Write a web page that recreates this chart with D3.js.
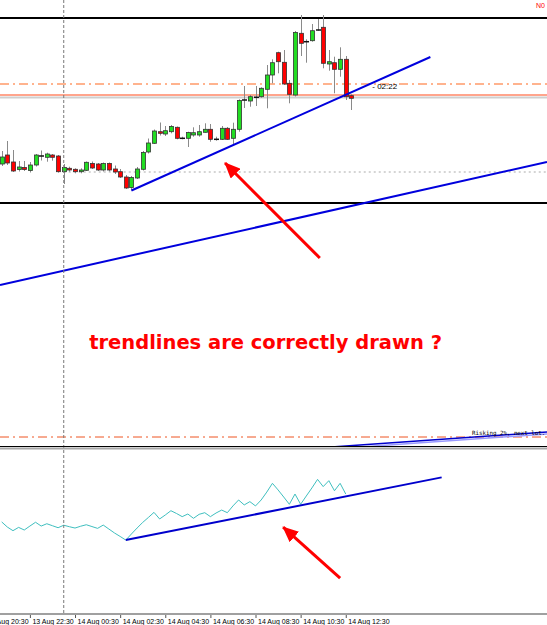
<!DOCTYPE html>
<html lang="en">
<head>
<meta charset="UTF-8">
<title>trendlines</title>
<script src="https://d3js.org/d3.v7.min.js"></script>
<style>
  body{margin:0;background:#fff;}
  svg{display:block;}
</style>
</head>
<body>
<script>
// M15 bars, first one 13 Aug 21:15
const firstBar = new Date(2013, 7, 13, 21, 15);
const barMs = 15 * 60000;

const opens  = [154.360,154.450,154.380,154.305,154.325,154.295,154.350,154.440,154.427,154.450,
                154.440,154.283,154.317,154.307,154.283,154.297,154.365,154.360,154.300,154.365,
                154.310,154.283,154.230,154.125,154.220,154.307,154.480,154.567,154.683,154.660,
                154.683,154.727,154.617,154.617,154.650,154.650,154.677,154.707,154.607,154.607,
                154.717,154.617,154.707,155.000,154.990,155.027,155.033,155.107,155.250,155.473,
                155.377,155.167,155.050,155.667,155.583,155.593,155.700,155.727,155.360,155.373,
                155.307,155.407,155.043];
const highs  = [154.490,154.590,154.500,154.390,154.390,154.380,154.460,154.495,154.473,154.460,
                154.450,154.360,154.333,154.317,154.317,154.385,154.385,154.370,154.375,154.375,
                154.345,154.310,154.250,154.240,154.330,154.490,154.615,154.705,154.775,154.740,
                154.750,154.735,154.633,154.683,154.727,154.750,154.767,154.760,154.633,154.740,
                154.730,154.773,155.007,155.140,155.050,155.140,155.127,155.350,155.407,155.483,
                155.500,155.200,155.690,155.850,155.607,155.760,155.810,155.850,155.500,155.433,
                155.527,155.440,155.057];
const lows   = [154.340,154.350,154.280,154.285,154.290,154.275,154.335,154.395,154.383,154.393,
                154.273,154.160,154.283,154.267,154.267,154.290,154.310,154.290,154.285,154.285,
                154.260,154.220,154.110,154.095,154.210,154.295,154.465,154.560,154.645,154.640,
                154.667,154.607,154.607,154.530,154.633,154.633,154.673,154.583,154.593,154.600,
                154.600,154.550,154.683,154.920,154.933,154.940,155.023,154.917,155.167,155.267,
                155.150,154.967,155.035,155.440,155.373,155.583,155.693,155.317,155.293,155.067,
                155.233,155.000,154.900];
const closes = [154.430,154.370,154.290,154.330,154.305,154.350,154.450,154.440,154.460,154.427,
                154.283,154.325,154.300,154.283,154.300,154.377,154.320,154.300,154.365,154.300,
                154.280,154.230,154.120,154.225,154.310,154.475,154.570,154.690,154.667,154.693,
                154.735,154.617,154.617,154.675,154.673,154.683,154.707,154.607,154.607,154.717,
                154.607,154.707,154.995,155.000,155.033,155.027,155.117,155.250,155.373,155.383,
                155.160,155.057,155.675,155.567,155.583,155.693,155.700,155.367,155.383,155.307,
                155.407,155.033,155.017];

// lower window line, one value per bar
const osc = [55.8,52.7,50.5,52.5,50.9,53.3,55.6,53.3,54.7,53.5,
             52.3,53.8,52.9,52.1,53.2,54.1,53.0,51.9,53.9,51.5,
             49.1,47.0,44.8,48.5,52.1,55.5,58.5,61.6,57.6,60.0,
             62.6,60.9,59.0,60.6,58.0,60.4,61.4,59.0,61.2,63.0,
             61.4,65.5,69.1,66.1,68.1,65.5,69.1,73.9,79.2,75.2,
             70.9,66.5,72.7,66.5,71.5,76.4,81.6,77.2,80.8,74.7,
             79.2,72.7];

const tickBars   = [-3, 5, 13, 21, 29, 37, 45, 53, 61];
const tickLabels = ["13 Aug 20:30","13 Aug 22:30","14 Aug 00:30","14 Aug 02:30","14 Aug 04:30",
                    "14 Aug 06:30","14 Aug 08:30","14 Aug 10:30","14 Aug 12:30"];

// horizontal levels (price)
const levelHigh = 155.820, levelLow = 153.970;
const levelDash = 155.160, levelBid = 155.050, levelAsk = 155.025, levelOpen = 154.280;
const levelSep = 151.630;

// trendlines: [bar, price]
const trendUp    = [[23, 154.095], [76, 155.430]];
const trendLong  = [[0, 153.154], [60, 153.915]];
const trendRisk  = [[61, 151.540], [96, 151.677]];
const trendOsc   = [[22, 44.8], [78, 82.8]];
const arrowMain  = [[56.4, 153.42], [39.6, 154.37]];
const arrowOsc   = [[60.0, 21.8], [49.9, 52.7]];

const W = 547, H = 625;
const mainBottom = 446, indTop = 449, indBottom = 614;

const svg = d3.select("body").append("svg").attr("width", W).attr("height", H)
  .style("font-family", "'Liberation Sans', Arial, sans-serif");

const barTime = i => new Date(+firstBar + i * barMs);
const times = opens.map((d, i) => barTime(i));
const x = d3.scaleTime().domain([times[0], times[times.length - 1]]).range([1.7, 351.4]);
const xb = i => x(barTime(i));
const y = d3.scaleLinear().domain([156, 151.54]).range([0, mainBottom]);
const yo = d3.scaleLinear().domain([0, 100]).range([indBottom, indTop]);

const defs = svg.append("defs");
defs.append("clipPath").attr("id", "clipMain").append("rect")
  .attr("x", 0).attr("y", 0).attr("width", W).attr("height", mainBottom);
defs.append("clipPath").attr("id", "clipInd").append("rect")
  .attr("x", 0).attr("y", indTop).attr("width", W).attr("height", indBottom - indTop);
defs.append("marker").attr("id", "head").attr("markerUnits", "userSpaceOnUse")
  .attr("viewBox", "0 0 16 14").attr("refX", 15).attr("refY", 7)
  .attr("markerWidth", 16).attr("markerHeight", 14).attr("orient", "auto")
  .append("path").attr("d", "M0,0 L16,7 L0,14 Z").attr("fill", "#ff0000");

const main = svg.append("g").attr("clip-path", "url(#clipMain)");
const ind = svg.append("g").attr("clip-path", "url(#clipInd)");

// day separator
const daySep = xb(11);
svg.append("line").attr("x1", daySep).attr("x2", daySep).attr("y1", 0).attr("y2", indBottom)
  .attr("stroke", "#777").attr("stroke-dasharray", "3,2").attr("stroke-width", 1);

function hline(g, yy, color, width, dash, x0) {
  g.append("line").attr("x1", x0 || 0).attr("x2", W).attr("y1", yy).attr("y2", yy)
    .attr("stroke", color).attr("stroke-width", width)
    .attr("stroke-dasharray", dash || null);
}
hline(main, y(levelOpen), "#aaa", 1, "2,3", daySep);
hline(main, y(levelDash), "#ff9a6a", 1.5, "9,4,2,4");
hline(main, y(levelAsk), "#cfcfcf", 2);
hline(main, y(levelBid), "#ff4a1a", 1);
hline(main, y(levelHigh), "#000", 2);
hline(main, y(levelLow), "#000", 2);
hline(main, y(levelSep), "#ee5522", 1, "9,4,2,4");

// candles
const bars = times.map((t, i) => ({ t, o: opens[i], h: highs[i], l: lows[i], c: closes[i] }));
main.selectAll(".wick").data(bars).join("line").attr("class", "wick")
  .attr("x1", d => Math.round(x(d.t)) + 0.5).attr("x2", d => Math.round(x(d.t)) + 0.5)
  .attr("y1", d => y(d.h)).attr("y2", d => y(d.l))
  .attr("stroke", "#8a8a8a").attr("stroke-width", 1);
main.selectAll(".body").data(bars.filter(d => d.o !== d.c)).join("rect").attr("class", "body")
  .attr("x", d => Math.round(x(d.t)) - 1.5).attr("width", 4)
  .attr("y", d => y(Math.max(d.o, d.c)))
  .attr("height", d => Math.max(1.5, Math.abs(y(d.o) - y(d.c))))
  .attr("fill", d => d.c > d.o ? "#22dd22" : "#ff0000")
  .attr("stroke", "#333").attr("stroke-width", 0.8);
main.selectAll(".doji").data(bars.filter(d => d.o === d.c)).join("line").attr("class", "doji")
  .attr("x1", d => Math.round(x(d.t)) - 2).attr("x2", d => Math.round(x(d.t)) + 3)
  .attr("y1", d => y(d.o)).attr("y2", d => y(d.o))
  .attr("stroke", "#111").attr("stroke-width", 1.5);

// trendlines
function seg(g, pts, ys, extend, color, width) {
  let p = pts.map(d => [xb(d[0]), ys(d[1])]);
  if (extend) {
    const k = (p[1][1] - p[0][1]) / (p[1][0] - p[0][0]);
    p = [[0, p[0][1] - k * p[0][0]], [W, p[0][1] + k * (W - p[0][0])]];
  }
  g.append("line").attr("x1", p[0][0]).attr("y1", p[0][1]).attr("x2", p[1][0]).attr("y2", p[1][1])
    .attr("stroke", color).attr("stroke-width", width);
}
seg(main, trendRisk.map(d => [d[0], d[1] - 0.02]), y, true, "#9999ff", 1.5);
seg(main, trendRisk, y, true, "#0000cc", 1.5);
seg(main, trendUp, y, false, "#0000dd", 2);
seg(main, trendLong, y, true, "#0000dd", 2);

// countdown text
main.append("text").attr("x", xb(65.7)).attr("y", y(155.115))
  .attr("font-size", 8).attr("fill", "#000").text("- 02:22");
svg.append("text").attr("x", 472).attr("y", y(151.652))
  .attr("font-size", 5.8).attr("font-family", "'DejaVu Sans Mono', monospace")
  .attr("fill", "#000").text("Risking 2%, next lot.");
svg.append("text").attr("x", 536).attr("y", 8).attr("font-size", 7)
  .attr("fill", "#ff0000").text("N0");

// comment
main.append("text").attr("x", xb(15.5)).attr("y", y(152.51))
  .attr("font-family", "'DejaVu Sans', Verdana, sans-serif").attr("font-weight", "bold")
  .attr("font-size", 19.5).attr("fill", "#ff0000")
  .text("trendlines are correctly drawn ?");

// arrows
function arrow(g, pts, ys) {
  g.append("line")
    .attr("x1", xb(pts[0][0])).attr("y1", ys(pts[0][1]))
    .attr("x2", xb(pts[1][0])).attr("y2", ys(pts[1][1]))
    .attr("stroke", "#ff0000").attr("stroke-width", 3).attr("marker-end", "url(#head)");
}
arrow(main, arrowMain, y);

// window splitter
svg.append("line").attr("x1", 0).attr("x2", W).attr("y1", mainBottom + 0.5).attr("y2", mainBottom + 0.5)
  .attr("stroke", "#000").attr("stroke-width", 1);
svg.append("line").attr("x1", 0).attr("x2", W).attr("y1", mainBottom + 2.5).attr("y2", mainBottom + 2.5)
  .attr("stroke", "#a8a8a8").attr("stroke-width", 2);

// lower window
const oscLine = d3.line().x((d, i) => xb(i)).y(d => yo(d));
ind.append("path").datum(osc).attr("d", oscLine)
  .attr("fill", "none").attr("stroke", "#3fbfbf").attr("stroke-width", 1);
seg(ind, trendOsc, yo, false, "#0000cc", 2);
arrow(ind, arrowOsc, yo);

// time axis
const axis = d3.axisBottom(x).tickValues(tickBars.map(barTime))
  .tickSize(4).tickFormat((d, i) => tickLabels[i]);
const ax = svg.append("g").attr("transform", `translate(0,${indBottom})`).call(axis);
ax.select(".domain").remove();
ax.append("line").attr("x1", 0).attr("x2", W).attr("y1", 0).attr("y2", 0)
  .attr("stroke", "#a0a0a0").attr("stroke-width", 2);
ax.selectAll(".tick line").attr("stroke", "#555");
ax.selectAll(".tick text").attr("text-anchor", "start").attr("x", 2).attr("y", 5)
  .attr("dy", "0.71em").attr("font-size", 7).attr("fill", "#000")
  .attr("font-family", "'Liberation Sans', Arial, sans-serif");
</script>
</body>
</html>
